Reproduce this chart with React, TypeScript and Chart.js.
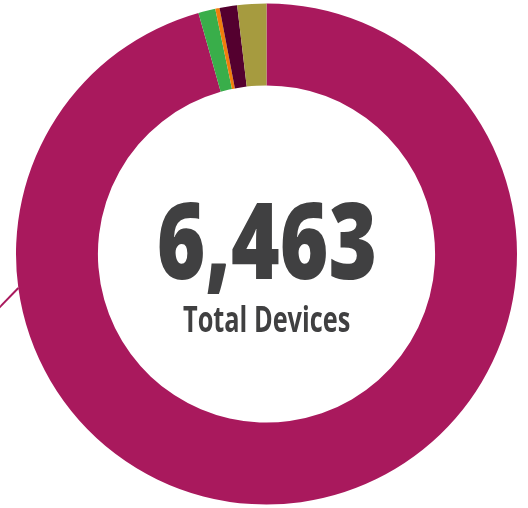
import React, { useEffect, useRef } from "react";
import { Chart, registerables } from "chart.js";

Chart.register(...registerables);

const categories = ["Category A", "Category B", "Category C", "Category D", "Category E"];
const values = [6180, 71, 18, 73, 121];
const colors = ["#A9195D", "#39AE4A", "#F07E0C", "#54002F", "#A69B3F"];
const totalLabel = "6,463";
const subLabel = "Total Devices";

const centerTextPlugin = {
  id: "centerText",
  afterDraw(chart: any) {
    const meta = chart.getDatasetMeta(0);
    const arc = meta.data[0];
    if (!arc) return;
    const { x, y, outerRadius } = arc.getProps(["x", "y", "outerRadius"], true);
    const ctx = chart.ctx;
    ctx.save();
    // leader line
    const ang = (172.2 * Math.PI) / 180;
    const sx = x + Math.cos(ang) * outerRadius;
    const sy = y + Math.sin(ang) * outerRadius;
    ctx.strokeStyle = colors[0];
    ctx.lineWidth = 2;
    ctx.beginPath();
    ctx.moveTo(sx, sy);
    ctx.lineTo(sx - 30, sy + 31);
    ctx.stroke();

    ctx.fillStyle = "#404041";
    ctx.textAlign = "left";
    ctx.textBaseline = "alphabetic";
    const drawFit = (text: string, weight: number, size: number, targetW: number, baseline: number) => {
      ctx.font = `${weight} ${size}px "Open Sans"`;
      const m = ctx.measureText(text);
      const w = m.actualBoundingBoxRight + m.actualBoundingBoxLeft;
      const sc = targetW / w;
      ctx.save();
      ctx.translate(x - targetW / 2, baseline);
      ctx.scale(sc, 1);
      ctx.fillText(text, m.actualBoundingBoxLeft, 0);
      ctx.restore();
    };
    drawFit(totalLabel, 800, 106, 215, 279);
    drawFit(subLabel, 700, 35, 167, 332);
    ctx.restore();
  },
};

export default function App() {
  const ref = useRef<HTMLCanvasElement>(null);
  useEffect(() => {
    if (!ref.current) return;
    const chart = new Chart(ref.current, {
      type: "doughnut",
      data: {
        labels: categories,
        datasets: [
          {
            data: values,
            backgroundColor: colors,
            borderWidth: 0,
            hoverOffset: 0,
          },
        ],
      },
      options: {
        responsive: false,
        animation: false,
        cutout: "67.3%",
        layout: { padding: { left: 5, right: 0, top: 3.5, bottom: 3.5 } },
        plugins: {
          legend: { display: false },
          tooltip: { enabled: false },
        },
      },
      plugins: [centerTextPlugin],
    });
    return () => chart.destroy();
  }, []);
  return (
    <div style={{ position: "fixed", left: 0, top: 0, width: 528, height: 508, background: "#fff" }}>
      <canvas ref={ref} width={528} height={508} style={{ width: 528, height: 508 }} />
    </div>
  );
}
